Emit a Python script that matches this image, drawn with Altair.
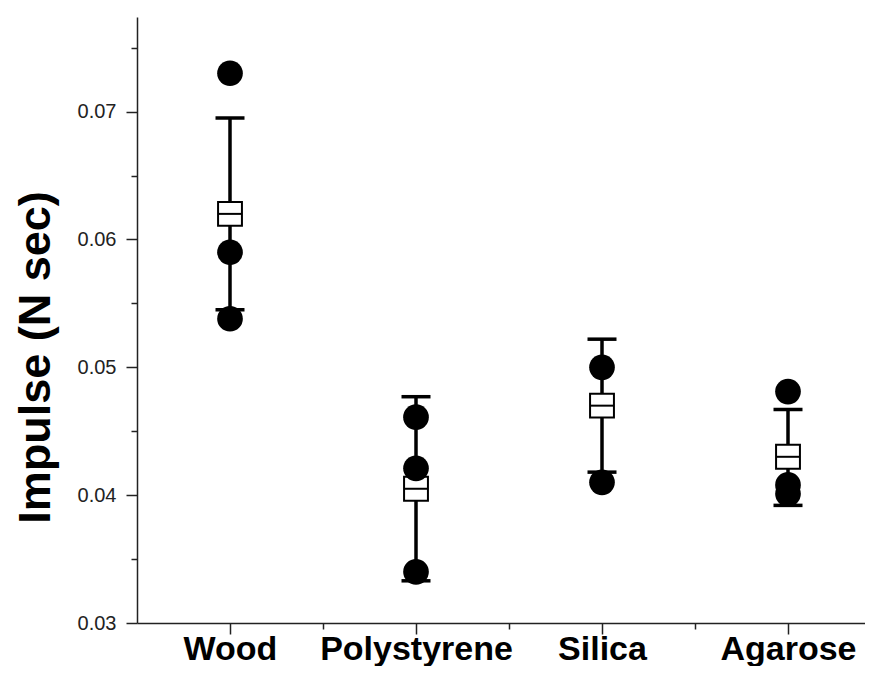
import altair as alt
import pandas as pd

categories = ["Wood", "Polystyrene", "Silica", "Agarose"]
means = [0.0620, 0.0405, 0.0470, 0.0430]
err_hi = [0.0695, 0.0477, 0.0522, 0.0467]
err_lo = [0.0545, 0.0333, 0.0418, 0.0392]
points = {
    "Wood": [0.0730, 0.0590, 0.0538],
    "Polystyrene": [0.0461, 0.0421, 0.0340],
    "Silica": [0.0500, 0.0410],
    "Agarose": [0.0481, 0.0408, 0.0401],
}
y_major = [0.03, 0.04, 0.05, 0.06, 0.07]
y_minor = [0.035, 0.045, 0.055, 0.065, 0.075]

idx = {c: i + 1 for i, c in enumerate(categories)}
summary = pd.DataFrame({"cat": categories, "idx": [idx[c] for c in categories],
                        "mean": means, "lo": err_lo, "hi": err_hi})
caps = pd.DataFrame({"idx": list(summary["idx"]) * 2, "v": err_hi + err_lo})
pts = pd.DataFrame([{"cat": c, "idx": idx[c], "v": v} for c in categories for v in points[c]])

W, H = 728, 606
xdom = [0.5, 0.5 + W / 186.0]
ydom = [0.03, 0.0774]
xs = alt.Scale(domain=xdom, nice=False, zero=False)
ys = alt.Scale(domain=ydom, nice=False, zero=False)

label_expr = "datum.value == 1 ? 'Wood' : datum.value == 2 ? 'Polystyrene' : datum.value == 3 ? 'Silica' : datum.value == 4 ? 'Agarose' : ''"

x_main = alt.Axis(orient="bottom", values=[1, 2, 3, 4], labelExpr=label_expr, title=None,
                  grid=False, domainColor="#222", domainWidth=1.5, tickColor="#222", tickWidth=1.5,
                  tickSize=11, labelFont="Liberation Sans", labelFontSize=34, labelFontWeight="bold",
                  labelColor="black", labelBaseline="alphabetic", labelPadding=25, labelFlush=False,
                  labelOverlap=False, labelLimit=0)
x_minor = alt.Axis(orient="bottom", values=[1.5, 2.5, 3.5], labels=False, title=None, grid=False,
                   domain=False, tickColor="#222", tickWidth=1.5, tickSize=6)
y_main = alt.Axis(orient="left", values=y_major, format=".2f", title="Impulse (N sec)", grid=False,
                  domainColor="#222", domainWidth=1.5, tickColor="#222", tickWidth=1.5, tickSize=11,
                  labelFont="Liberation Sans", labelFontSize=20, labelColor="#222", labelPadding=10,
                  labelFlush=False, labelOverlap=False, labelLimit=0,
                  titleFont="Liberation Sans", titleFontSize=45, titleFontWeight="bold", titleColor="black",
                  titleX=-88, titleY=340, titleBaseline="alphabetic", titleAngle=270, titleLimit=0)
y_minor_ax = alt.Axis(orient="left", values=y_minor, labels=False, title=None, grid=False, domain=False,
                      tickColor="#222", tickWidth=1.5, tickSize=6)

rule = alt.Chart(summary).mark_rule(color="black", strokeWidth=3.5).encode(
    x=alt.X("idx:Q", scale=xs, axis=x_main),
    y=alt.Y("lo:Q", scale=ys, axis=y_main),
    y2="hi:Q",
)
cap = alt.Chart(caps).mark_tick(orient="horizontal", color="black", size=29, thickness=3.5,
                                opacity=1).encode(
    x=alt.X("idx:Q", scale=xs, axis=x_minor),
    y=alt.Y("v:Q", scale=ys, axis=y_minor_ax),
)
sq = alt.Chart(summary).mark_point(shape="square", filled=True, fill="white", stroke="black",
                                   strokeWidth=2, size=570, opacity=1).encode(
    x=alt.X("idx:Q", scale=xs, axis=None),
    y=alt.Y("mean:Q", scale=ys, axis=None),
)
mid = alt.Chart(summary).mark_tick(orient="horizontal", color="black", size=24, thickness=2,
                                   opacity=1).encode(
    x=alt.X("idx:Q", scale=xs, axis=None),
    y=alt.Y("mean:Q", scale=ys, axis=None),
)
dots = alt.Chart(pts).mark_circle(color="black", size=660, opacity=1).encode(
    x=alt.X("idx:Q", scale=xs, axis=None),
    y=alt.Y("v:Q", scale=ys, axis=None),
)

chart = alt.layer(rule, cap, sq, mid, dots).resolve_axis(x="independent", y="independent").properties(
    width=W, height=H,
    autosize=alt.AutoSizeParams(type="none"),
    padding={"left": 129, "top": 9, "right": 0, "bottom": 43},
    background="white",
).configure_view(stroke=None)

chart.save("out.html", embed_options={"renderer": "svg", "actions": False})
